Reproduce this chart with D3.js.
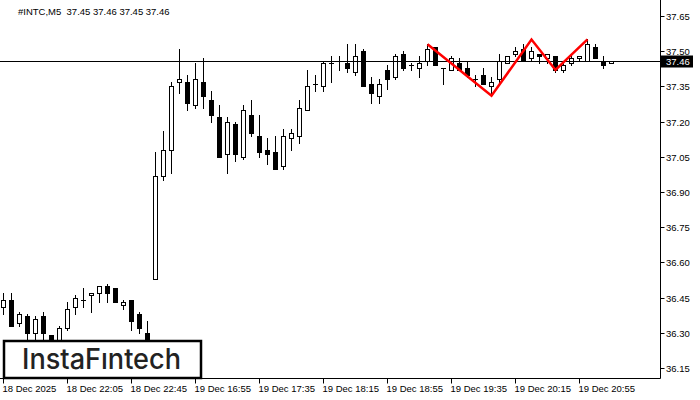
<!DOCTYPE html>
<html><head><meta charset="utf-8">
<script src="https://cdn.jsdelivr.net/npm/d3@7"></script>
<style>html,body{margin:0;padding:0;background:#fff;}svg{display:block;}</style>
</head><body>
<script>
const title = "#INTC,M5  37.45 37.46 37.45 37.46";
const timeLabels = ["18 Dec 2025","18 Dec 22:05","18 Dec 22:45","19 Dec 16:55","19 Dec 17:35","19 Dec 18:15","19 Dec 18:55","19 Dec 19:35","19 Dec 20:15","19 Dec 20:55"];
const priceTicks = [37.65,37.50,37.35,37.20,37.05,36.90,36.75,36.60,36.45,36.30,36.15];
const currentPrice = 37.46;
const openP  = [36.41,36.44,36.34,36.37,36.30,36.37,36.29,36.25,36.32,36.41,36.44,36.46,36.47,36.50,36.49,36.42,36.44,36.38,36.30,36.53,36.97,37.08,37.37,37.37,37.27,37.37,37.29,37.22,37.06,37.19,37.05,37.23,37.14,37.08,37.07,37.01,37.13,37.14,37.25,37.36,37.35,37.45,37.46,37.45,37.41,37.50,37.36,37.31,37.42,37.39,37.49,37.44,37.43,37.46,37.52,37.43,37.42,37.45,37.43,37.38,37.40,37.35,37.38,37.45,37.49,37.51,37.47,37.49,37.47,37.48,37.42,37.45,37.47,37.46,37.52,37.46,37.45];
const highP  = [36.47,36.47,36.39,36.38,36.37,36.39,36.29,36.33,36.43,36.46,36.49,36.47,36.50,36.51,36.49,36.44,36.44,36.39,36.35,37.07,37.16,37.37,37.51,37.40,37.45,37.47,37.33,37.27,37.22,37.20,37.27,37.29,37.23,37.13,37.14,37.17,37.17,37.29,37.42,37.40,37.46,37.48,37.48,37.53,37.53,37.51,37.39,37.38,37.44,37.49,37.50,37.45,37.48,37.53,37.52,37.43,37.48,37.47,37.46,37.40,37.43,37.39,37.49,37.48,37.52,37.53,37.52,37.49,37.49,37.48,37.46,37.48,37.48,37.55,37.53,37.48,37.46];
const lowP   = [36.38,36.33,36.33,36.26,36.26,36.25,36.23,36.24,36.31,36.38,36.41,36.39,36.43,36.43,36.43,36.40,36.31,36.30,36.23,36.53,36.95,36.98,37.32,37.25,37.26,37.26,37.20,37.05,36.98,37.03,37.04,37.14,37.05,37.02,37.00,37.00,37.08,37.11,37.25,37.33,37.33,37.37,37.42,37.41,37.40,37.35,37.28,37.28,37.34,37.38,37.42,37.42,37.39,37.44,37.44,37.36,37.42,37.42,37.39,37.35,37.36,37.31,37.37,37.45,37.48,37.46,37.46,37.45,37.45,37.41,37.41,37.44,37.46,37.46,37.47,37.43,37.45];
const closeP = [36.44,36.33,36.38,36.30,36.36,36.30,36.25,36.32,36.40,36.45,36.44,36.47,36.50,36.47,36.43,36.43,36.35,36.32,36.25,36.97,37.08,37.35,37.38,37.28,37.38,37.31,37.23,37.05,37.20,37.06,37.25,37.15,37.07,37.06,37.00,37.14,37.15,37.26,37.35,37.36,37.45,37.45,37.46,37.43,37.48,37.35,37.32,37.36,37.38,37.48,37.43,37.44,37.45,37.51,37.44,37.43,37.47,37.42,37.40,37.38,37.36,37.37,37.46,37.48,37.50,37.46,37.50,37.48,37.49,37.42,37.44,37.47,37.48,37.53,37.47,37.44,37.46];
const patternIdx = [53,61,66,69,73];
const patternPrice = [37.53,37.31,37.55,37.42,37.55];

const W = 700, H = 400;
const svg = d3.select("body").append("svg").attr("width", W).attr("height", H);
const font = "'Liberation Sans', Arial, sans-serif";

const x = d3.scaleLinear().domain([0, 76]).range([3.5, 611.5]);
const y = d3.scaleLinear().domain([36.15, 37.65]).range([368, 16]);
const py = p => Math.round(y(p)) + 0.5;
const R = 660.5, B = 378.5;

// frame
svg.append("line").attr("x1", R).attr("x2", R).attr("y1", 0).attr("y2", B).attr("stroke", "#000");
svg.append("line").attr("x1", 0).attr("x2", R).attr("y1", B).attr("y2", B).attr("stroke", "#000");

// right axis
const ya = svg.append("g").attr("font-family", font).attr("font-size", 9.5);
priceTicks.forEach(t => {
  ya.append("line").attr("x1", R).attr("x2", R + 4).attr("y1", py(t)).attr("y2", py(t)).attr("stroke", "#000");
  ya.append("text").attr("x", 666).attr("y", py(t)).attr("dy", "0.35em").text(t.toFixed(2));
});

// bottom axis
const xa = svg.append("g").attr("font-family", font).attr("font-size", 9.5);
timeLabels.forEach((l, k) => {
  const xi = x(k * 8);
  xa.append("line").attr("x1", xi).attr("x2", xi).attr("y1", B).attr("y2", B + 5).attr("stroke", "#000");
  xa.append("text").attr("x", xi - 1).attr("y", 392).text(l);
});

// candles
const data = openP.map((o, i) => ({i, o, h: highP[i], l: lowP[i], c: closeP[i]}));
const cg = svg.append("g");
data.forEach(d => {
  const cx = x(d.i);
  cg.append("line").attr("x1", cx).attr("x2", cx).attr("y1", py(d.h) - 0.5).attr("y2", py(d.l) + 0.5).attr("stroke", "#000");
  const top = Math.min(py(d.o), py(d.c)), bot = Math.max(py(d.o), py(d.c));
  if (bot - top < 1) {
    cg.append("line").attr("x1", cx - 2.5).attr("x2", cx + 2.5).attr("y1", top).attr("y2", top).attr("stroke", "#000");
  } else {
    cg.append("rect").attr("x", cx - 2).attr("width", 4).attr("y", top).attr("height", bot - top)
      .attr("fill", d.c >= d.o ? "#fff" : "#000").attr("stroke", "#000");
  }
});

// current price line
svg.append("line").attr("x1", 0).attr("x2", R).attr("y1", py(currentPrice)).attr("y2", py(currentPrice)).attr("stroke", "#000");
svg.append("rect").attr("x", 661).attr("y", py(currentPrice) - 6).attr("width", 32).attr("height", 12).attr("fill", "#000");
svg.append("text").attr("x", 666).attr("y", py(currentPrice)).attr("dy", "0.35em").attr("fill", "#fff")
  .attr("font-family", font).attr("font-size", 9.5).text(currentPrice.toFixed(2));

// pattern
const line = d3.line().x(d => x(d[0])).y(d => y(d[1]));
svg.append("path").datum(patternIdx.map((v, k) => [v, patternPrice[k]]))
  .attr("d", line).attr("fill", "none").attr("stroke", "#ff0000").attr("stroke-width", 2.5);

// title
svg.append("text").attr("x", 18).attr("y", 15).attr("font-family", font).attr("font-size", 9.5)
  .attr("xml:space", "preserve").style("white-space", "pre").text(title);

// logo
svg.append("rect").attr("x", 4).attr("y", 341).attr("width", 197).attr("height", 37)
  .attr("fill", "#fff").attr("stroke", "#000").attr("stroke-width", 2.5);
svg.append("text").attr("x", 22).attr("y", 369).attr("font-family", "Inter, 'Open Sans', sans-serif")
  .attr("font-weight", 500).attr("font-size", 28).attr("fill", "#222")
  .attr("textLength", 159).attr("lengthAdjust", "spacingAndGlyphs").text("InstaFıntech");
</script>
</body></html>
